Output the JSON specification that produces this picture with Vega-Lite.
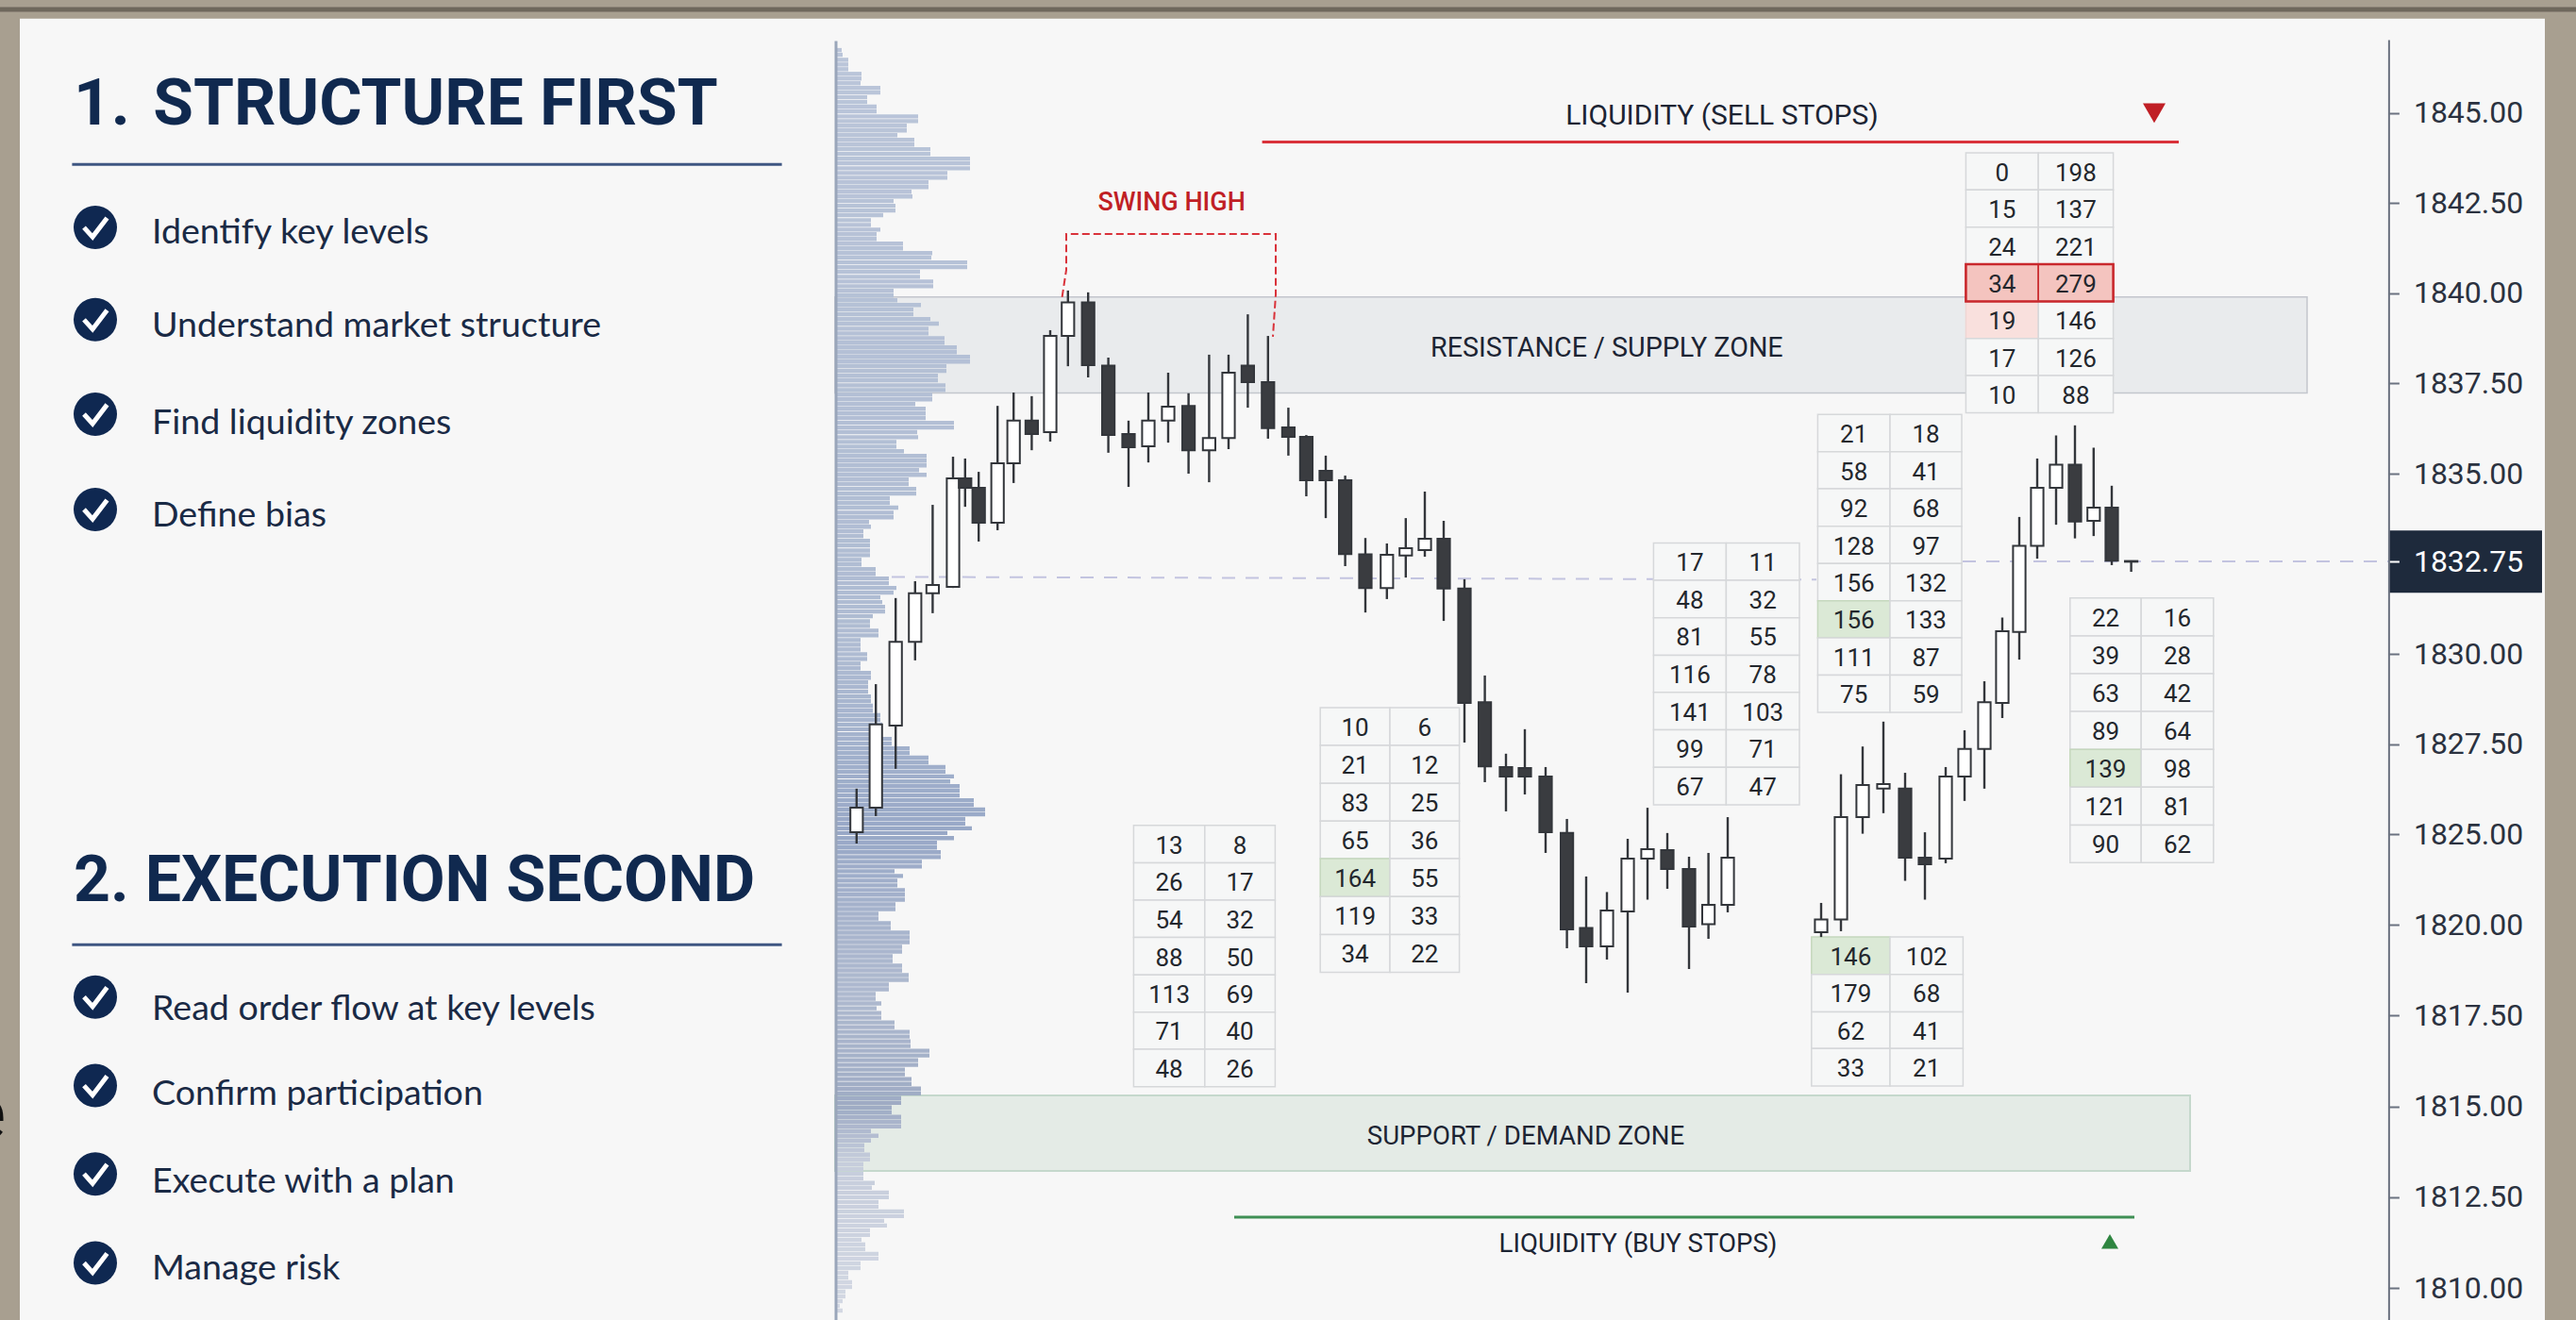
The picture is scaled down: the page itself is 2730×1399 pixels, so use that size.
{
"$schema":"https://vega.github.io/schema/vega-lite/v6.json",
"width":2730,"height":1399,"padding":0,"autosize":{"type":"none"},
"background":"#a89f90",
"config":{"view":{"stroke":null},"text":{"font":"Roboto"}},
"resolve":{"axis":{"y":"independent"}},
"datasets":{
"boxes":[
{"n":"panel","x":-44.3,"x2":89.5,"hi":1847.62,"lo":1809.12},
{"n":"resistance","x":-1.1,"x2":76.9,"hi":1839.9,"lo":1837.24},
{"n":"support","x":-1.1,"x2":70.7,"hi":1815.3,"lo":1813.22},
{"n":"last","x":81.2,"x2":89.35,"hi":1833.54,"lo":1831.82}
],
"profile":[{"p":1846.75,"v":6},{"p":1846.62,"v":7},{"p":1846.48,"v":13},{"p":1846.35,"v":13},{"p":1846.22,"v":13},{"p":1846.09,"v":27},{"p":1845.96,"v":27},{"p":1845.83,"v":26},{"p":1845.7,"v":47},{"p":1845.57,"v":47},{"p":1845.44,"v":33},{"p":1845.31,"v":33},{"p":1845.18,"v":43},{"p":1845.05,"v":43},{"p":1844.91,"v":87},{"p":1844.78,"v":87},{"p":1844.65,"v":75},{"p":1844.52,"v":75},{"p":1844.39,"v":65},{"p":1844.26,"v":83},{"p":1844.13,"v":83},{"p":1844,"v":100},{"p":1843.87,"v":100},{"p":1843.74,"v":142},{"p":1843.61,"v":142},{"p":1843.47,"v":142},{"p":1843.34,"v":118},{"p":1843.21,"v":118},{"p":1843.08,"v":98},{"p":1842.95,"v":98},{"p":1842.82,"v":80},{"p":1842.69,"v":81},{"p":1842.56,"v":61},{"p":1842.43,"v":63},{"p":1842.3,"v":63},{"p":1842.17,"v":50},{"p":1842.03,"v":37},{"p":1841.9,"v":37},{"p":1841.77,"v":47},{"p":1841.64,"v":43},{"p":1841.51,"v":43},{"p":1841.38,"v":71},{"p":1841.25,"v":71},{"p":1841.12,"v":102},{"p":1840.99,"v":101},{"p":1840.86,"v":139},{"p":1840.73,"v":139},{"p":1840.6,"v":89},{"p":1840.46,"v":89},{"p":1840.33,"v":103},{"p":1840.2,"v":103},{"p":1840.07,"v":61},{"p":1839.94,"v":61},{"p":1839.81,"v":65},{"p":1839.68,"v":90},{"p":1839.55,"v":82},{"p":1839.42,"v":82},{"p":1839.29,"v":100},{"p":1839.16,"v":109},{"p":1839.02,"v":98},{"p":1838.89,"v":98},{"p":1838.76,"v":115},{"p":1838.63,"v":115},{"p":1838.5,"v":128},{"p":1838.37,"v":128},{"p":1838.24,"v":142},
{"p":1838.11,"v":142},{"p":1837.98,"v":117},{"p":1837.85,"v":117},{"p":1837.72,"v":108},{"p":1837.59,"v":108},{"p":1837.45,"v":116},{"p":1837.32,"v":116},{"p":1837.19,"v":102},{"p":1837.06,"v":102},{"p":1836.93,"v":84},{"p":1836.8,"v":95},{"p":1836.67,"v":95},{"p":1836.54,"v":95},{"p":1836.41,"v":125},{"p":1836.28,"v":125},{"p":1836.15,"v":86},{"p":1836.01,"v":87},{"p":1835.88,"v":64},{"p":1835.75,"v":64},{"p":1835.62,"v":72},{"p":1835.49,"v":96},{"p":1835.36,"v":96},{"p":1835.23,"v":96},{"p":1835.1,"v":88},{"p":1834.97,"v":96},{"p":1834.85,"v":77},{"p":1834.73,"v":77},{"p":1834.61,"v":85},{"p":1834.49,"v":85},{"p":1834.37,"v":57},{"p":1834.25,"v":57},{"p":1834.13,"v":66},{"p":1834,"v":61},{"p":1833.88,"v":61},{"p":1833.76,"v":35},{"p":1833.64,"v":37},{"p":1833.52,"v":29},{"p":1833.4,"v":29},{"p":1833.28,"v":36},{"p":1833.16,"v":36},{"p":1833.03,"v":36},{"p":1832.91,"v":36},{"p":1832.79,"v":27},{"p":1832.66,"v":27},{"p":1832.52,"v":42},{"p":1832.38,"v":42},{"p":1832.24,"v":56},{"p":1832.1,"v":56},{"p":1831.96,"v":64},{"p":1831.82,"v":61},{"p":1831.68,"v":47},{"p":1831.54,"v":49},{"p":1831.4,"v":52},{"p":1831.26,"v":52},{"p":1831.12,"v":39},{"p":1830.97,"v":36},{"p":1830.83,"v":36},{"p":1830.69,"v":45},{"p":1830.55,"v":45},{"p":1830.41,"v":26},{"p":1830.27,"v":26},{"p":1830.13,"v":26},{"p":1829.99,"v":33},{"p":1829.86,"v":33},{"p":1829.73,"v":26},{"p":1829.6,"v":26},{"p":1829.47,"v":37},{"p":1829.34,"v":37},
{"p":1829.21,"v":34},{"p":1829.08,"v":34},{"p":1828.95,"v":34},{"p":1828.82,"v":37},{"p":1828.69,"v":37},{"p":1828.56,"v":39},{"p":1828.43,"v":39},{"p":1828.3,"v":47},{"p":1828.17,"v":47},{"p":1828.04,"v":49},{"p":1827.91,"v":49},{"p":1827.77,"v":49},{"p":1827.64,"v":59},{"p":1827.51,"v":59},{"p":1827.38,"v":78},{"p":1827.25,"v":78},{"p":1827.12,"v":98},{"p":1826.99,"v":98},{"p":1826.86,"v":116},{"p":1826.73,"v":116},{"p":1826.6,"v":125},{"p":1826.46,"v":121},{"p":1826.33,"v":131},{"p":1826.2,"v":131},{"p":1826.07,"v":131},{"p":1825.94,"v":146},{"p":1825.81,"v":146},{"p":1825.68,"v":158},{"p":1825.55,"v":158},{"p":1825.42,"v":137},{"p":1825.29,"v":137},{"p":1825.16,"v":144},{"p":1825.03,"v":118},{"p":1824.78,"v":125},{"p":1824.52,"v":107},{"p":1824.26,"v":107},{"p":1824,"v":111},{"p":1823.73,"v":111},{"p":1823.47,"v":91},{"p":1823.21,"v":91},{"p":1822.95,"v":62},{"p":1822.69,"v":71},{"p":1822.43,"v":65},{"p":1822.17,"v":65},{"p":1821.91,"v":73},{"p":1821.65,"v":73},{"p":1821.38,"v":73},{"p":1821.12,"v":63},{"p":1820.86,"v":63},{"p":1820.6,"v":45},{"p":1820.34,"v":45},{"p":1820.08,"v":58},{"p":1819.91,"v":58},{"p":1819.78,"v":78},{"p":1819.65,"v":78},{"p":1819.52,"v":78},{"p":1819.39,"v":70},{"p":1819.26,"v":70},{"p":1819.13,"v":60},{"p":1819,"v":60},{"p":1818.87,"v":70},{"p":1818.74,"v":70},{"p":1818.61,"v":77},{"p":1818.48,"v":77},{"p":1818.35,"v":56},{"p":1818.22,"v":56},{"p":1818.09,"v":42},{"p":1817.96,"v":42},
{"p":1817.83,"v":48},{"p":1817.7,"v":43},{"p":1817.57,"v":48},{"p":1817.44,"v":48},{"p":1817.31,"v":62},{"p":1817.18,"v":62},{"p":1817.05,"v":78},{"p":1816.92,"v":78},{"p":1816.79,"v":79},{"p":1816.66,"v":79},{"p":1816.53,"v":99},{"p":1816.4,"v":99},{"p":1816.27,"v":87},{"p":1816.14,"v":87},{"p":1816.01,"v":73},{"p":1815.88,"v":73},{"p":1815.75,"v":80},{"p":1815.62,"v":80},{"p":1815.49,"v":90},{"p":1815.36,"v":90},{"p":1815.23,"v":69},{"p":1815.1,"v":69},{"p":1814.97,"v":59},{"p":1814.84,"v":59},{"p":1814.71,"v":69},{"p":1814.58,"v":69},{"p":1814.45,"v":69},{"p":1814.32,"v":37},{"p":1814.19,"v":45},{"p":1814.06,"v":37},{"p":1813.93,"v":30},{"p":1813.8,"v":30},{"p":1813.67,"v":36},{"p":1813.54,"v":36},{"p":1813.41,"v":29},{"p":1813.28,"v":29},{"p":1813.15,"v":29},{"p":1813.02,"v":29},{"p":1812.89,"v":41},{"p":1812.76,"v":38},{"p":1812.63,"v":56},{"p":1812.5,"v":56},{"p":1812.37,"v":45},{"p":1812.24,"v":45},{"p":1812.11,"v":72},{"p":1811.98,"v":72},{"p":1811.85,"v":51},{"p":1811.72,"v":54},{"p":1811.59,"v":36},{"p":1811.46,"v":36},{"p":1811.33,"v":27},{"p":1811.2,"v":31},{"p":1811.07,"v":31},{"p":1810.94,"v":45},{"p":1810.81,"v":45},{"p":1810.68,"v":26},{"p":1810.55,"v":26},{"p":1810.42,"v":13},{"p":1810.29,"v":13},{"p":1810.16,"v":17},{"p":1810.03,"v":17},{"p":1809.9,"v":10},{"p":1809.77,"v":10},{"p":1809.64,"v":7},{"p":1809.51,"v":4},{"p":1809.38,"v":7}],
"levels":[
{"t":1,"hi":1825.24,"lo":1823.41,"c":1824.44,"l":14.72,"m":18.49,"r":22.22,"bid":13,"ask":8,"hb":"n","ha":"n"},
{"t":1,"hi":1823.41,"lo":1821.35,"c":1822.38,"l":14.72,"m":18.49,"r":22.22,"bid":26,"ask":17,"hb":"n","ha":"n"},
{"t":1,"hi":1821.35,"lo":1819.65,"c":1820.32,"l":14.72,"m":18.49,"r":22.22,"bid":54,"ask":32,"hb":"n","ha":"n"},
{"t":1,"hi":1819.65,"lo":1818.62,"c":1819.13,"l":14.72,"m":18.49,"r":22.22,"bid":88,"ask":50,"hb":"n","ha":"n"},
{"t":1,"hi":1818.62,"lo":1817.59,"c":1818.1,"l":14.72,"m":18.49,"r":22.22,"bid":113,"ask":69,"hb":"n","ha":"n"},
{"t":1,"hi":1817.59,"lo":1816.57,"c":1817.08,"l":14.72,"m":18.49,"r":22.22,"bid":71,"ask":40,"hb":"n","ha":"n"},
{"t":1,"hi":1816.57,"lo":1815.54,"c":1816.05,"l":14.72,"m":18.49,"r":22.22,"bid":48,"ask":26,"hb":"n","ha":"n"},
{"t":2,"hi":1828.51,"lo":1827.46,"c":1827.98,"l":24.61,"m":28.3,"r":31.98,"bid":10,"ask":6,"hb":"n","ha":"n"},
{"t":2,"hi":1827.46,"lo":1826.41,"c":1826.93,"l":24.61,"m":28.3,"r":31.98,"bid":21,"ask":12,"hb":"n","ha":"n"},
{"t":2,"hi":1826.41,"lo":1825.36,"c":1825.88,"l":24.61,"m":28.3,"r":31.98,"bid":83,"ask":25,"hb":"n","ha":"n"},
{"t":2,"hi":1825.36,"lo":1823.64,"c":1824.68,"l":24.61,"m":28.3,"r":31.98,"bid":65,"ask":36,"hb":"n","ha":"n"},
{"t":2,"hi":1823.64,"lo":1821.55,"c":1822.59,"l":24.61,"m":28.3,"r":31.98,"bid":164,"ask":55,"hb":"g","ha":"n"},
{"t":2,"hi":1821.55,"lo":1819.73,"c":1820.5,"l":24.61,"m":28.3,"r":31.98,"bid":119,"ask":33,"hb":"n","ha":"n"},
{"t":2,"hi":1819.73,"lo":1818.69,"c":1819.21,"l":24.61,"m":28.3,"r":31.98,"bid":34,"ask":22,"hb":"n","ha":"n"},
{"t":3,"hi":1833.22,"lo":1832.19,"c":1832.74,"l":42.27,"m":46.12,"r":50,"bid":17,"ask":11,"hb":"n","ha":"n"},
{"t":3,"hi":1832.19,"lo":1831.07,"c":1831.63,"l":42.27,"m":46.12,"r":50,"bid":48,"ask":32,"hb":"n","ha":"n"},
{"t":3,"hi":1831.07,"lo":1829.96,"c":1830.52,"l":42.27,"m":46.12,"r":50,"bid":81,"ask":55,"hb":"n","ha":"n"},
{"t":3,"hi":1829.96,"lo":1828.93,"c":1829.45,"l":42.27,"m":46.12,"r":50,"bid":116,"ask":78,"hb":"n","ha":"n"},
{"t":3,"hi":1828.93,"lo":1827.89,"c":1828.41,"l":42.27,"m":46.12,"r":50,"bid":141,"ask":103,"hb":"n","ha":"n"},
{"t":3,"hi":1827.89,"lo":1826.85,"c":1827.37,"l":42.27,"m":46.12,"r":50,"bid":99,"ask":71,"hb":"n","ha":"n"},
{"t":3,"hi":1826.85,"lo":1825.81,"c":1826.33,"l":42.27,"m":46.12,"r":50,"bid":67,"ask":47,"hb":"n","ha":"n"},
{"t":4,"hi":1836.64,"lo":1835.61,"c":1836.13,"l":50.97,"m":54.8,"r":58.6,"bid":21,"ask":18,"hb":"n","ha":"n"},
{"t":4,"hi":1835.61,"lo":1834.61,"c":1835.09,"l":50.97,"m":54.8,"r":58.6,"bid":58,"ask":41,"hb":"n","ha":"n"},
{"t":4,"hi":1834.61,"lo":1833.65,"c":1834.13,"l":50.97,"m":54.8,"r":58.6,"bid":92,"ask":68,"hb":"n","ha":"n"},
{"t":4,"hi":1833.65,"lo":1832.69,"c":1833.17,"l":50.97,"m":54.8,"r":58.6,"bid":128,"ask":97,"hb":"n","ha":"n"},
{"t":4,"hi":1832.69,"lo":1831.58,"c":1832.14,"l":50.97,"m":54.8,"r":58.6,"bid":156,"ask":132,"hb":"n","ha":"n"},
{"t":4,"hi":1831.58,"lo":1830.48,"c":1831.03,"l":50.97,"m":54.8,"r":58.6,"bid":156,"ask":133,"hb":"g","ha":"n"},
{"t":4,"hi":1830.48,"lo":1829.41,"c":1829.93,"l":50.97,"m":54.8,"r":58.6,"bid":111,"ask":87,"hb":"n","ha":"n"},
{"t":4,"hi":1829.41,"lo":1828.38,"c":1828.9,"l":50.97,"m":54.8,"r":58.6,"bid":75,"ask":59,"hb":"n","ha":"n"},
{"t":5,"hi":1831.66,"lo":1830.53,"c":1831.09,"l":64.34,"m":68.11,"r":71.94,"bid":22,"ask":16,"hb":"n","ha":"n"},
{"t":5,"hi":1830.53,"lo":1829.45,"c":1829.97,"l":64.34,"m":68.11,"r":71.94,"bid":39,"ask":28,"hb":"n","ha":"n"},
{"t":5,"hi":1829.45,"lo":1828.4,"c":1828.93,"l":64.34,"m":68.11,"r":71.94,"bid":63,"ask":42,"hb":"n","ha":"n"},
{"t":5,"hi":1828.4,"lo":1827.35,"c":1827.88,"l":64.34,"m":68.11,"r":71.94,"bid":89,"ask":64,"hb":"n","ha":"n"},
{"t":5,"hi":1827.35,"lo":1826.3,"c":1826.83,"l":64.34,"m":68.11,"r":71.94,"bid":139,"ask":98,"hb":"g","ha":"n"},
{"t":5,"hi":1826.3,"lo":1825.25,"c":1825.79,"l":64.34,"m":68.11,"r":71.94,"bid":121,"ask":81,"hb":"n","ha":"n"},
{"t":5,"hi":1825.25,"lo":1823.42,"c":1824.48,"l":64.34,"m":68.11,"r":71.94,"bid":90,"ask":62,"hb":"n","ha":"n"},
{"t":6,"hi":1819.66,"lo":1818.63,"c":1819.15,"l":50.64,"m":54.8,"r":58.67,"bid":146,"ask":102,"hb":"g","ha":"n"},
{"t":6,"hi":1818.63,"lo":1817.6,"c":1818.13,"l":50.64,"m":54.8,"r":58.67,"bid":179,"ask":68,"hb":"n","ha":"n"},
{"t":6,"hi":1817.6,"lo":1816.59,"c":1817.09,"l":50.64,"m":54.8,"r":58.67,"bid":62,"ask":41,"hb":"n","ha":"n"},
{"t":6,"hi":1816.59,"lo":1815.56,"c":1816.07,"l":50.64,"m":54.8,"r":58.67,"bid":33,"ask":21,"hb":"n","ha":"n"},
{"t":7,"hi":1843.9,"lo":1842.87,"c":1843.38,"l":58.82,"m":62.66,"r":66.63,"bid":0,"ask":198,"hb":"n","ha":"n"},
{"t":7,"hi":1842.87,"lo":1841.84,"c":1842.36,"l":58.82,"m":62.66,"r":66.63,"bid":15,"ask":137,"hb":"n","ha":"n"},
{"t":7,"hi":1841.84,"lo":1840.81,"c":1841.32,"l":58.82,"m":62.66,"r":66.63,"bid":24,"ask":221,"hb":"n","ha":"n"},
{"t":7,"hi":1840.81,"lo":1839.78,"c":1840.29,"l":58.82,"m":62.66,"r":66.63,"bid":34,"ask":279,"hb":"s","ha":"s"},
{"t":7,"hi":1839.78,"lo":1838.75,"c":1839.26,"l":58.82,"m":62.66,"r":66.63,"bid":19,"ask":146,"hb":"w","ha":"n"},
{"t":7,"hi":1838.75,"lo":1837.72,"c":1838.23,"l":58.82,"m":62.66,"r":66.63,"bid":17,"ask":126,"hb":"n","ha":"n"},
{"t":7,"hi":1837.72,"lo":1836.69,"c":1837.2,"l":58.82,"m":62.66,"r":66.63,"bid":10,"ask":88,"hb":"n","ha":"n"}
],
"candles":[
{"b":0.04,"o":1825.05,"h":1826.26,"l":1824.48,"c":1825.73},
{"b":1.06,"o":1825.73,"h":1829.16,"l":1825.5,"c":1828.04},
{"b":2.11,"o":1828.01,"h":1831.66,"l":1826.81,"c":1830.36},
{"b":3.14,"o":1830.36,"h":1832.16,"l":1829.82,"c":1831.8},
{"b":4.07,"o":1831.8,"h":1834.2,"l":1831.21,"c":1832.05},
{"b":5.15,"o":1831.99,"h":1835.47,"l":1831.96,"c":1834.88},
{"b":5.79,"o":1834.88,"h":1835.42,"l":1834.15,"c":1834.64},
{"b":6.51,"o":1834.64,"h":1835.05,"l":1833.26,"c":1833.74},
{"b":7.51,"o":1833.74,"h":1836.88,"l":1833.55,"c":1835.29},
{"b":8.36,"o":1835.29,"h":1837.25,"l":1834.76,"c":1836.47},
{"b":9.32,"o":1836.47,"h":1837.15,"l":1835.65,"c":1836.1},
{"b":10.3,"o":1836.15,"h":1838.98,"l":1835.89,"c":1838.82},
{"b":11.24,"o":1838.82,"h":1840.08,"l":1837.98,"c":1839.75},
{"b":12.31,"o":1839.75,"h":1840.03,"l":1837.67,"c":1838.01},
{"b":13.38,"o":1838,"h":1838.22,"l":1835.58,"c":1836.07},
{"b":14.45,"o":1836.1,"h":1836.47,"l":1834.66,"c":1835.73},
{"b":15.5,"o":1835.76,"h":1837.25,"l":1835.31,"c":1836.47},
{"b":16.55,"o":1836.47,"h":1837.8,"l":1835.86,"c":1836.86},
{"b":17.63,"o":1836.88,"h":1837.23,"l":1835,"c":1835.65},
{"b":18.72,"o":1835.65,"h":1838.3,"l":1834.78,"c":1835.99},
{"b":19.75,"o":1835.99,"h":1838.3,"l":1835.68,"c":1837.8},
{"b":20.77,"o":1838,"h":1839.42,"l":1836.83,"c":1837.54},
{"b":21.84,"o":1837.54,"h":1838.82,"l":1835.97,"c":1836.26},
{"b":22.92,"o":1836.28,"h":1836.83,"l":1835.5,"c":1836.02},
{"b":23.87,"o":1836.02,"h":1836.07,"l":1834.42,"c":1834.83},
{"b":24.9,"o":1835.08,"h":1835.5,"l":1833.86,"c":1834.83},
{"b":25.93,"o":1834.83,"h":1834.95,"l":1832.61,"c":1832.94},
{"b":27,"o":1832.93,"h":1833.35,"l":1831.23,"c":1831.96},
{"b":28.14,"o":1831.96,"h":1833.21,"l":1831.63,"c":1832.92},
{"b":29.14,"o":1832.9,"h":1833.86,"l":1832.27,"c":1833.09},
{"b":30.15,"o":1833.04,"h":1834.54,"l":1832.87,"c":1833.33},
{"b":31.15,"o":1833.33,"h":1833.79,"l":1830.98,"c":1831.94},
{"b":32.25,"o":1831.94,"h":1832.22,"l":1827.54,"c":1828.64},
{"b":33.33,"o":1828.66,"h":1829.4,"l":1826.44,"c":1826.88},
{"b":34.45,"o":1826.86,"h":1827.23,"l":1825.63,"c":1826.6},
{"b":35.45,"o":1826.83,"h":1827.91,"l":1826.1,"c":1826.6},
{"b":36.55,"o":1826.6,"h":1826.86,"l":1823.96,"c":1825.05},
{"b":37.68,"o":1825.03,"h":1825.42,"l":1819.35,"c":1819.87},
{"b":38.7,"o":1819.91,"h":1822.66,"l":1818.39,"c":1819.4},
{"b":39.8,"o":1819.4,"h":1821.8,"l":1819.04,"c":1820.78},
{"b":40.9,"o":1820.73,"h":1824.74,"l":1818.13,"c":1823.65},
{"b":41.95,"o":1823.65,"h":1825.73,"l":1821.38,"c":1824.17},
{"b":43,"o":1824.11,"h":1825.03,"l":1821.98,"c":1823.07},
{"b":44.15,"o":1823.07,"h":1823.75,"l":1818.78,"c":1819.95},
{"b":45.18,"o":1820.03,"h":1823.96,"l":1819.61,"c":1821.09},
{"b":46.2,"o":1821.09,"h":1825.47,"l":1820.68,"c":1823.7},
{"b":51.15,"o":1819.79,"h":1821.2,"l":1819.66,"c":1820.29},
{"b":52.2,"o":1820.29,"h":1826.66,"l":1819.82,"c":1825.47},
{"b":53.35,"o":1825.47,"h":1827.43,"l":1825.01,"c":1826.36},
{"b":54.45,"o":1826.26,"h":1828.12,"l":1825.58,"c":1826.39},
{"b":55.6,"o":1826.26,"h":1826.7,"l":1822.42,"c":1823.7},
{"b":56.65,"o":1823.7,"h":1825.05,"l":1821.38,"c":1823.33},
{"b":57.75,"o":1823.65,"h":1826.86,"l":1823.39,"c":1826.6},
{"b":58.75,"o":1826.6,"h":1827.88,"l":1825.92,"c":1827.36},
{"b":59.8,"o":1827.36,"h":1829.24,"l":1826.26,"c":1828.66},
{"b":60.75,"o":1828.64,"h":1831.08,"l":1828.22,"c":1830.67},
{"b":61.65,"o":1830.65,"h":1833.89,"l":1829.84,"c":1833.15},
{"b":62.6,"o":1833.15,"h":1835.42,"l":1832.82,"c":1834.64},
{"b":63.6,"o":1834.64,"h":1836.06,"l":1833.69,"c":1835.25},
{"b":64.6,"o":1835.25,"h":1836.34,"l":1833.34,"c":1833.77},
{"b":65.59,"o":1833.79,"h":1835.72,"l":1833.4,"c":1834.13},
{"b":66.55,"o":1834.13,"h":1834.69,"l":1832.64,"c":1832.77},
{"b":67.58,"o":1832.74,"h":1832.76,"l":1832.44,"c":1832.76}
],
"lines":[
{"n":"frame","x":-45.35,"x2":91.15,"p":1847.88,"p2":1847.88},
{"n":"head1","x":-41.53,"x2":-3.92,"p":1843.58,"p2":1843.58},
{"n":"head2","x":-41.53,"x2":-3.92,"p":1819.45,"p2":1819.45},
{"n":"sell","x":21.53,"x2":70.1,"p":1844.2,"p2":1844.2},
{"n":"buy","x":20.05,"x2":67.75,"p":1811.95,"p2":1811.95}
],
"dashes":[
{"x":1.9,"x2":50.9,"p":1832.29,"p2":1832.21},
{"x":58.65,"x2":81.2,"p":1832.75,"p2":1832.75}
],
"bracket":[
{"o":1,"x":10.93,"p":1839.9},{"o":2,"x":11.15,"p":1840.65},{"o":3,"x":11.15,"p":1841.65},{"o":4,"x":22.25,"p":1841.65},{"o":5,"x":22.25,"p":1839.97},{"o":6,"x":22.1,"p":1838.8}
],
"checks":[
{"x":-40.3,"p":1841.83},{"x":-40.3,"p":1839.27},{"x":-40.3,"p":1836.65},{"x":-40.3,"p":1834.08},
{"x":-40.3,"p":1818.01},{"x":-40.3,"p":1815.57},{"x":-40.3,"p":1813.14},{"x":-40.3,"p":1810.69}
],
"items":[
{"x":-37.3,"p":1841.73,"s":"Identify key levels"},
{"x":-37.3,"p":1839.14,"s":"Understand market structure"},
{"x":-37.3,"p":1836.45,"s":"Find liquidity zones"},
{"x":-37.3,"p":1833.97,"s":"Define bias"},
{"x":-37.3,"p":1817.71,"s":"Read order flow at key levels"},
{"x":-37.3,"p":1815.38,"s":"Confirm participation"},
{"x":-37.3,"p":1812.96,"s":"Execute with a plan"},
{"x":-37.3,"p":1810.57,"s":"Manage risk"}
],
"heads":[
{"n":"a","x":-41.45,"p":1845.24,"s":"1.\u00a0\u200aSTRUCTURE FIRST"},
{"n":"b","x":-41.45,"p":1822.34,"s":"2. EXECUTION SECOND"}
],
"labels":[
{"n":"sell","x":45.9,"p":1845,"s":"LIQUIDITY (SELL STOPS)"},
{"n":"buy","x":41.45,"p":1811.25,"s":"LIQUIDITY (BUY STOPS)"},
{"n":"res","x":39.79,"p":1838.53,"s":"RESISTANCE / SUPPLY ZONE"},
{"n":"sup","x":35.5,"p":1814.21,"s":"SUPPORT / DEMAND ZONE"}
]
},
"layer":[
{"data":{"name":"boxes"},"transform":[{"filter":"datum.n==='panel'"}],"mark":{"type":"rect","fill":"#f7f7f7"},
 "encoding":{"x":{"field":"x","type":"quantitative","axis":null,"scale":{"domain":[-45.35,91.15],"range":[0,2730],"nice":false,"zero":false}},"x2":{"field":"x2"},
 "y":{"field":"hi","type":"quantitative","scale":{"domain":[1809.12,1820,1825,1830,1832.75,1835,1847.04],"range":[1399,980,884,693,595,502,42],"nice":false,"zero":false},
  "axis":{"orient":"right","offset":-198.6,"title":null,"values":[1845,1842.5,1840,1837.5,1835,1832.75,1830,1827.5,1825,1820,1817.5,1815,1812.5,1810],"format":".2f","grid":false,"labelFont":"Roboto","labelFontSize":32,"labelColor":{"condition":{"test":"datum.value===1832.75","value":"#ffffff"},"value":"#2b3240"},"labelPadding":15,"labelOverlap":false,"labelFlush":false,"labelBound":false,"tickSize":11,"tickWidth":2,"tickColor":{"condition":{"test":"datum.value===1832.75","value":"#ffffff"},"value":"#6b7280"},"domainColor":"#6b7280","domainWidth":2,"zindex":1}},"y2":{"field":"lo"}}},
{"data":{"name":"lines"},"transform":[{"filter":"datum.n==='frame'"}],"mark":{"type":"rule","stroke":"#6e675c","strokeWidth":5},
 "encoding":{"x":{"field":"x","type":"quantitative","axis":null},"x2":{"field":"x2"},"y":{"field":"p","type":"quantitative","axis":null}}},
{"data":{"name":"boxes"},"transform":[{"filter":"datum.n==='resistance'"}],"mark":{"type":"rect","fill":"#e9ebed","stroke":"#c3c6cd","strokeWidth":1.5},
 "encoding":{"x":{"field":"x","type":"quantitative","axis":null},"x2":{"field":"x2"},"y":{"field":"hi","type":"quantitative","axis":null},"y2":{"field":"lo"}}},
{"data":{"name":"boxes"},"transform":[{"filter":"datum.n==='support'"}],"mark":{"type":"rect","fill":"#e4ebe6","stroke":"#c5d8cc","strokeWidth":2},
 "encoding":{"x":{"field":"x","type":"quantitative","axis":null},"x2":{"field":"x2"},"y":{"field":"hi","type":"quantitative","axis":null},"y2":{"field":"lo"}}},
{"data":{"name":"profile"},"transform":[{"calculate":"-1.05","as":"x0"},{"calculate":"datum.v/20-1.05","as":"x1"}],"mark":{"type":"rule","strokeWidth":4.4},
 "encoding":{"x":{"field":"x0","type":"quantitative","axis":null},"x2":{"field":"x1"},"y":{"field":"p","type":"quantitative","axis":null},
 "stroke":{"field":"p","type":"quantitative","legend":null,"scale":{"domain":[1809.4,1813.5,1815,1818,1825,1830,1846],"range":["#d3d8e3","#c6cddc","#9eabc4","#aeb9cf","#98a8c7","#aebbd2","#bac5d9"]}}}},
{"data":{"values":[{"x":-1.05,"a":1847.0,"b":1809.12}]},"mark":{"type":"rule","stroke":"#9aa6ba","strokeWidth":3},
 "encoding":{"x":{"field":"x","type":"quantitative","axis":null},"y":{"field":"a","type":"quantitative","axis":null},"y2":{"field":"b"}}},
{"data":{"name":"dashes"},"mark":{"type":"rule","stroke":"#c3c4e0","strokeWidth":2,"strokeDash":[14,11]},
 "encoding":{"x":{"field":"x","type":"quantitative","axis":null},"x2":{"field":"x2"},"y":{"field":"p","type":"quantitative","axis":null},"y2":{"field":"p2"}}},
{"data":{"name":"lines"},"transform":[{"filter":"datum.n==='head1'||datum.n==='head2'"}],"mark":{"type":"rule","stroke":"#3e5682","strokeWidth":3},
 "encoding":{"x":{"field":"x","type":"quantitative","axis":null},"x2":{"field":"x2"},"y":{"field":"p","type":"quantitative","axis":null}}},
{"data":{"name":"lines"},"transform":[{"filter":"datum.n==='sell'"}],"mark":{"type":"rule","stroke":"#d9323a","strokeWidth":3},
 "encoding":{"x":{"field":"x","type":"quantitative","axis":null},"x2":{"field":"x2"},"y":{"field":"p","type":"quantitative","axis":null}}},
{"data":{"name":"lines"},"transform":[{"filter":"datum.n==='buy'"}],"mark":{"type":"rule","stroke":"#3f8f55","strokeWidth":3},
 "encoding":{"x":{"field":"x","type":"quantitative","axis":null},"x2":{"field":"x2"},"y":{"field":"p","type":"quantitative","axis":null}}},
{"data":{"values":[{"x":68.8,"p":1845}]},"mark":{"type":"point","shape":"triangle-down","filled":true,"opacity":1,"color":"#c01f25","size":576},
 "encoding":{"x":{"field":"x","type":"quantitative","axis":null},"y":{"field":"p","type":"quantitative","axis":null}}},
{"data":{"values":[{"x":66.45,"p":1811.28}]},"mark":{"type":"point","shape":"triangle-up","filled":true,"opacity":1,"color":"#2e8540","size":324},
 "encoding":{"x":{"field":"x","type":"quantitative","axis":null},"y":{"field":"p","type":"quantitative","axis":null}}},
{"data":{"name":"bracket"},"mark":{"type":"line","stroke":"#d9323a","strokeWidth":2,"strokeDash":[8,4]},
 "encoding":{"x":{"field":"x","type":"quantitative","axis":null},"y":{"field":"p","type":"quantitative","axis":null},"order":{"field":"o"}}},
{"data":{"values":[{"x":16.73,"p":1842.57,"s":"SWING HIGH"}]},"mark":{"type":"text","font":"Roboto","fontSize":27,"fontWeight":500,"dy":2,"color":"#c01f25"},
 "encoding":{"x":{"field":"x","type":"quantitative","axis":null},"y":{"field":"p","type":"quantitative","axis":null},"text":{"field":"s"}}},
{"data":{"name":"levels"},"mark":{"type":"rect","strokeWidth":1.5},
 "encoding":{"x":{"field":"l","type":"quantitative","axis":null},"x2":{"field":"m"},"y":{"field":"hi","type":"quantitative","axis":null},"y2":{"field":"lo"},
 "fill":{"field":"hb","type":"nominal","legend":null,"scale":{"domain":["n","g","s","w"],"range":["#f6f7f7","#dbe9d6","#f4c4bf","#f9e0dd"]}},
 "stroke":{"field":"hb","type":"nominal","legend":null,"scale":{"domain":["n","g","s","w"],"range":["#d6d8da","#c5d8bd","#c9282d","#eed6d3"]}}}},
{"data":{"name":"levels"},"mark":{"type":"rect","strokeWidth":1.5},
 "encoding":{"x":{"field":"m","type":"quantitative","axis":null},"x2":{"field":"r"},"y":{"field":"hi","type":"quantitative","axis":null},"y2":{"field":"lo"},
 "fill":{"field":"ha","type":"nominal","legend":null,"scale":{"domain":["n","g","s","w"],"range":["#f6f7f7","#dbe9d6","#f4c4bf","#f9e0dd"]}},
 "stroke":{"field":"ha","type":"nominal","legend":null,"scale":{"domain":["n","g","s","w"],"range":["#d6d8da","#c5d8bd","#c9282d","#eed6d3"]}}}},
{"data":{"name":"levels"},"transform":[{"filter":"datum.hb==='s'"}],"mark":{"type":"rect","fillOpacity":0,"stroke":"#c9282d","strokeWidth":2.5},
 "encoding":{"x":{"field":"l","type":"quantitative","axis":null},"x2":{"field":"r"},"y":{"field":"hi","type":"quantitative","axis":null},"y2":{"field":"lo"}}},
{"data":{"name":"levels"},"transform":[{"calculate":"(datum.l+datum.m)/2","as":"tx"}],"mark":{"type":"text","font":"Roboto","fontSize":26,"dy":2,"color":"#23272d"},
 "encoding":{"x":{"field":"tx","type":"quantitative","axis":null},"y":{"field":"c","type":"quantitative","axis":null},"text":{"field":"bid"}}},
{"data":{"name":"levels"},"transform":[{"calculate":"(datum.m+datum.r)/2","as":"tx"}],"mark":{"type":"text","font":"Roboto","fontSize":26,"dy":2,"color":"#23272d"},
 "encoding":{"x":{"field":"tx","type":"quantitative","axis":null},"y":{"field":"c","type":"quantitative","axis":null},"text":{"field":"ask"}}},
{"data":{"name":"candles"},"mark":{"type":"rule","stroke":"#33363b","strokeWidth":2.4},
 "encoding":{"x":{"field":"b","type":"quantitative","axis":null},"y":{"field":"h","type":"quantitative","axis":null},"y2":{"field":"l"}}},
{"data":{"name":"candles"},"transform":[{"calculate":"datum.b-0.33","as":"x0"},{"calculate":"datum.b+0.33","as":"x1"}],"mark":{"type":"rect","stroke":"#33363b","strokeWidth":2},
 "encoding":{"x":{"field":"x0","type":"quantitative","axis":null},"x2":{"field":"x1"},"y":{"field":"o","type":"quantitative","axis":null},"y2":{"field":"c"},
 "fill":{"condition":{"test":"datum.c>=datum.o","value":"#ffffff"},"value":"#3a3c40"}}},
{"data":{"name":"boxes"},"transform":[{"filter":"datum.n==='last'"}],"mark":{"type":"rect","fill":"#1e2a3c"},
 "encoding":{"x":{"field":"x","type":"quantitative","axis":null},"x2":{"field":"x2"},"y":{"field":"hi","type":"quantitative","axis":null},"y2":{"field":"lo"}}},
{"data":{"name":"labels"},"transform":[{"filter":"datum.n==='sell'"}],"mark":{"type":"text","font":"Roboto","fontSize":30,"dy":3,"color":"#1c2433"},
 "encoding":{"x":{"field":"x","type":"quantitative","axis":null},"y":{"field":"p","type":"quantitative","axis":null},"text":{"field":"s"}}},
{"data":{"name":"labels"},"transform":[{"filter":"datum.n==='res'"}],"mark":{"type":"text","font":"Roboto","fontSize":28.7,"dy":2,"color":"#1c2433"},
 "encoding":{"x":{"field":"x","type":"quantitative","axis":null},"y":{"field":"p","type":"quantitative","axis":null},"text":{"field":"s"}}},
{"data":{"name":"labels"},"transform":[{"filter":"datum.n==='buy'||datum.n==='sup'"}],"mark":{"type":"text","font":"Roboto","fontSize":27.6,"dy":2,"color":"#1c2433"},
 "encoding":{"x":{"field":"x","type":"quantitative","axis":null},"y":{"field":"p","type":"quantitative","axis":null},"text":{"field":"s"}}},
{"data":{"name":"heads"},"transform":[{"filter":"datum.n==='a'"}],"mark":{"type":"text","font":"Roboto","fontSize":69.4,"fontWeight":"bold","align":"left","color":"#10294f"},
 "encoding":{"x":{"field":"x","type":"quantitative","axis":null},"y":{"field":"p","type":"quantitative","axis":null},"text":{"field":"s"}}},
{"data":{"name":"heads"},"transform":[{"filter":"datum.n==='b'"}],"mark":{"type":"text","font":"Roboto","fontSize":68,"fontWeight":"bold","align":"left","color":"#10294f"},
 "encoding":{"x":{"field":"x","type":"quantitative","axis":null},"y":{"field":"p","type":"quantitative","axis":null},"text":{"field":"s"}}},
{"data":{"name":"checks"},"mark":{"type":"point","shape":"circle","filled":true,"opacity":1,"color":"#0f2851","size":2116},
 "encoding":{"x":{"field":"x","type":"quantitative","axis":null},"y":{"field":"p","type":"quantitative","axis":null}}},
{"data":{"name":"checks"},"mark":{"type":"point","shape":"M-0.5 0 L-0.12 0.42 L0.52 -0.42","filled":false,"opacity":1,"color":"#ffffff","strokeWidth":5,"size":2304},
 "encoding":{"x":{"field":"x","type":"quantitative","axis":null},"y":{"field":"p","type":"quantitative","axis":null}}},
{"data":{"name":"items"},"mark":{"type":"text","font":"Lato","fontSize":37.6,"dy":2,"align":"left","color":"#1a2a45"},
 "encoding":{"x":{"field":"x","type":"quantitative","axis":null},"y":{"field":"p","type":"quantitative","axis":null},"text":{"field":"s"}}},
{"data":{"values":[{"x":-47.15,"p":1814.73,"s":"e"}]},"mark":{"type":"text","font":"Roboto","fontSize":80,"align":"left","color":"#111111"},
 "encoding":{"x":{"field":"x","type":"quantitative","axis":null},"y":{"field":"p","type":"quantitative","axis":null},"text":{"field":"s"}}}
]
}
